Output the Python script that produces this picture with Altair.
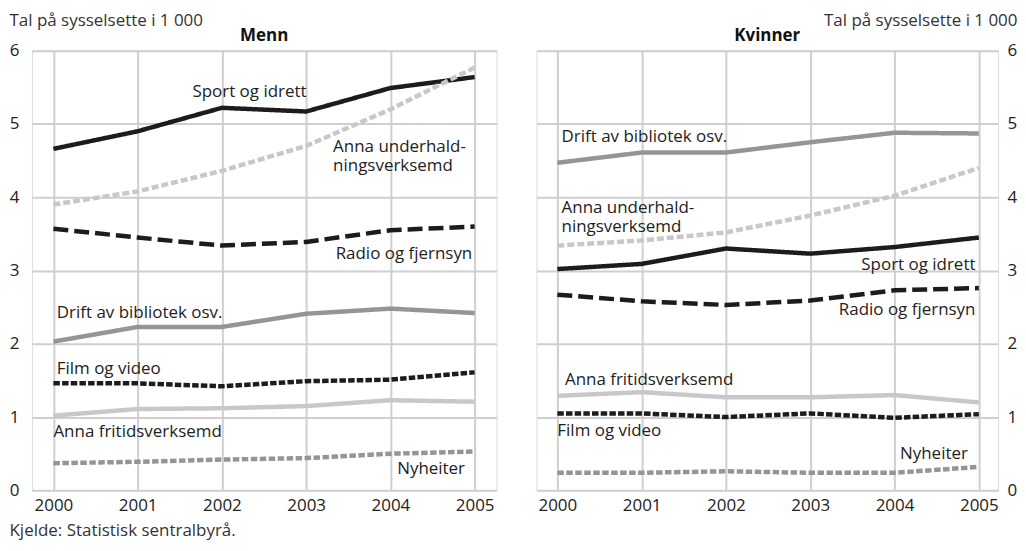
import altair as alt
import pandas as pd

years = [2000, 2001, 2002, 2003, 2004, 2005]
series = ["Sport og idrett", "Anna underhaldningsverksemd", "Radio og fjernsyn",
          "Drift av bibliotek osv.", "Film og video", "Anna fritidsverksemd", "Nyheiter"]

# Menn (tal på sysselsette i 1 000)
menn_sport = [4.66, 4.90, 5.22, 5.17, 5.49, 5.64]
menn_underhald = [3.90, 4.08, 4.36, 4.70, 5.20, 5.77]
menn_radio = [3.57, 3.45, 3.34, 3.39, 3.55, 3.60]
menn_bibliotek = [2.03, 2.23, 2.23, 2.41, 2.48, 2.42]
menn_film = [1.46, 1.46, 1.42, 1.49, 1.51, 1.61]
menn_fritid = [1.02, 1.11, 1.12, 1.15, 1.23, 1.21]
menn_nyheiter = [0.37, 0.39, 0.42, 0.44, 0.50, 0.53]

# Kvinner
kvinner_sport = [3.02, 3.09, 3.30, 3.23, 3.32, 3.45]
kvinner_underhald = [3.34, 3.41, 3.52, 3.75, 4.02, 4.40]
kvinner_radio = [2.67, 2.58, 2.53, 2.59, 2.73, 2.76]
kvinner_bibliotek = [4.47, 4.61, 4.61, 4.75, 4.88, 4.87]
kvinner_film = [1.05, 1.05, 1.00, 1.05, 0.99, 1.04]
kvinner_fritid = [1.29, 1.34, 1.27, 1.27, 1.30, 1.20]
kvinner_nyheiter = [0.24, 0.24, 0.26, 0.24, 0.24, 0.32]

# Line labels (text, panel, year position, value position, alignment)
label_text = ["Sport og idrett", "Anna underhald-\nningsverksemd", "Radio og fjernsyn",
              "Drift av bibliotek osv.", "Film og video", "Anna fritidsverksemd", "Nyheiter",
              "Drift av bibliotek osv.", "Anna underhald-\nningsverksemd", "Sport og idrett",
              "Radio og fjernsyn", "Anna fritidsverksemd", "Film og video", "Nyheiter"]
label_panel = ["Menn"] * 7 + ["Kvinner"] * 7
label_year = [2001.65, 2003.32, 2003.35, 2000.04, 2000.04, 2000.0, 2004.08,
              2000.05, 2000.05, 2004.96, 2004.96, 2000.09, 2000.0, 2004.87]
label_value = [5.43, 4.68, 3.23, 2.42, 1.66, 0.80, 0.29,
               4.82, 3.855, 3.07, 2.46, 1.51, 0.81, 0.50]
label_align = ["left", "left", "left", "left", "left", "left", "left",
               "left", "left", "right", "right", "left", "left", "right"]

menn_vals = [menn_sport, menn_underhald, menn_radio, menn_bibliotek, menn_film, menn_fritid, menn_nyheiter]
kvinner_vals = [kvinner_sport, kvinner_underhald, kvinner_radio, kvinner_bibliotek, kvinner_film,
                kvinner_fritid, kvinner_nyheiter]

rows = []
for panel, vals in [("Menn", menn_vals), ("Kvinner", kvinner_vals)]:
    for s, v in zip(series, vals):
        for y, val in zip(years, v):
            rows.append({"panel": panel, "series": s, "year": y, "value": val})
df = pd.DataFrame(rows)

labels = pd.DataFrame({"text": label_text, "panel": label_panel, "year": label_year,
                       "value": label_value, "anchor": label_align})

colors = ["#1c1c1c", "#c8c8c8", "#1c1c1c", "#959595", "#1c1c1c", "#c8c8c8", "#959595"]
dashes = [[1, 0], [7, 3], [15, 6], [1, 0], [6.5, 2.2], [1, 0], [6.5, 2.5]]

FONT = "Open Sans"
GRID = "#cfcfcf"
H = 441
FS = 17


def panel_chart(name, side, width, xdomain):
    d = df[df["panel"] == name]
    lab = labels[labels["panel"] == name]
    xscale = alt.Scale(domain=xdomain, nice=False, zero=False)
    yscale = alt.Scale(domain=[0, 6], nice=False)
    common_y = dict(values=[0, 1, 2, 3, 4, 5, 6], format="d", grid=True, gridColor=GRID,
                    gridWidth=2, domain=False, ticks=False, labelFontSize=FS,
                    labelColor="#222", title="Tal på sysselsette i 1 000", titleFontSize=FS,
                    titleFontWeight="normal", titleColor="#333", titleAngle=0,
                    titleY=-25, titleBaseline="alphabetic", titleFont=FONT, labelFont=FONT)
    if side == "left":
        xaxis = alt.Axis(values=years, format="d", grid=True, gridColor=GRID, gridWidth=2,
                         domain=False, ticks=False, labelFontSize=FS, labelPadding=7,
                         labelColor="#222", title="Kjelde: Statistisk sentralbyrå.",
                         titleFontSize=FS, titleFontWeight="normal", titleColor="#333",
                         titleAngle=0, titleX=-23, titleY=45, titleAlign="left",
                         titleBaseline="alphabetic", titleFont=FONT, labelFont=FONT)
        yaxis = alt.Axis(orient="left", labelPadding=13, titleX=-23, titleAlign="left", **common_y)
    else:
        xaxis = alt.Axis(values=years, format="d", grid=True, gridColor=GRID, gridWidth=2,
                         domain=False, ticks=False, labelFontSize=FS, labelPadding=7,
                         labelColor="#222", title=None, labelFont=FONT)
        yaxis = alt.Axis(orient="right", labelPadding=9, titleX=19, titleAlign="right", **common_y)

    lines = alt.Chart(d).mark_line(strokeWidth=4.5, strokeCap="butt", strokeJoin="miter").encode(
        x=alt.X("year:Q", scale=xscale, axis=xaxis),
        y=alt.Y("value:Q", scale=yscale, axis=yaxis),
        color=alt.Color("series:N", scale=alt.Scale(domain=series, range=colors), legend=None),
        strokeDash=alt.StrokeDash("series:N", scale=alt.Scale(domain=series, range=dashes), legend=None),
        order=alt.Order("year:Q"),
    )
    layers = [lines]
    for al in ["left", "right"]:
        sub = lab[lab["anchor"] == al]
        if len(sub):
            layers.append(
                alt.Chart(sub).mark_text(align=al, baseline="middle", fontSize=FS, font=FONT,
                                         color="#222", lineBreak="\n", lineHeight=19).encode(
                    x=alt.X("year:Q", scale=xscale),
                    y=alt.Y("value:Q", scale=yscale),
                    text="text:N",
                )
            )
    return alt.layer(*layers).properties(
        width=width, height=H,
        title=alt.TitleParams(name, fontSize=FS, fontWeight="bold", font=FONT, color="#111",
                              anchor="middle", baseline="alphabetic", offset=11, dy=57),
    )


chart = alt.hconcat(panel_chart("Menn", "left", 466, [1999.745, 2005.26]),
                    panel_chart("Kvinner", "right", 463, [1999.752, 2005.228]),
                    spacing=38).properties(
    padding={"left": 0, "top": 2, "right": 0, "bottom": 0}
).configure_view(stroke=GRID, strokeWidth=2).configure(background="white")

chart.save("out.html", embed_options={"renderer": "svg", "actions": False})
